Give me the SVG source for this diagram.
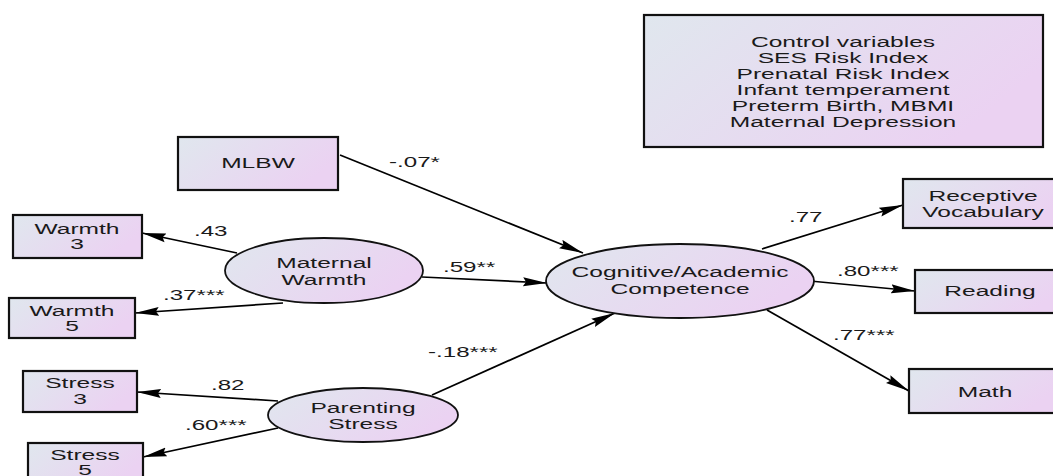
<svg xmlns="http://www.w3.org/2000/svg" width="1053" height="476" viewBox="0 0 1053 476">
<defs>
<linearGradient id="g" x1="0" y1="0" x2="1" y2="0.4">
<stop offset="0" stop-color="#e0e7ee"/>
<stop offset="1" stop-color="#ebd2f2"/>
</linearGradient>
<marker id="ah" viewBox="0 0 24 10" markerWidth="24" markerHeight="10" refX="24" refY="5" orient="auto" markerUnits="userSpaceOnUse">
<path d="M0,0.5 L24,5 L0,9.5 L3,5 z" fill="#000"/>
</marker>
<style>
.box{fill:url(#g);stroke:#111;stroke-width:2.2}
.ell{fill:url(#g);stroke:#111;stroke-width:1.8}
.t{font-family:"Liberation Sans",Arial,sans-serif;font-size:14.8px;fill:#1a1a1a;text-anchor:middle}
.lab{font-family:"Liberation Sans",Arial,sans-serif;font-size:14.8px;fill:#1a1a1a}
.c line{stroke:#000;stroke-width:1.7;marker-end:url(#ah)}
</style>
</defs>
<rect width="1053" height="476" fill="#fff"/>

<g id="controls">
<rect class="box" x="644" y="15" width="399" height="132"/>
<text class="t" transform="translate(843 47) scale(1.66 1)">Control variables</text>
<text class="t" transform="translate(843 63) scale(1.66 1)">SES Risk Index</text>
<text class="t" transform="translate(843 79) scale(1.66 1)">Prenatal Risk Index</text>
<text class="t" transform="translate(843 95) scale(1.66 1)">Infant temperament</text>
<text class="t" transform="translate(843 111) scale(1.66 1)">Preterm Birth, MBMI</text>
<text class="t" transform="translate(843 127) scale(1.66 1)">Maternal Depression</text>
</g>

<g class="c" id="connectors">
<line x1="340" y1="155" x2="583" y2="253"/>
<line x1="422" y1="277" x2="547" y2="283"/>
<line x1="432" y1="395" x2="615" y2="313"/>
<line x1="237" y1="253" x2="142" y2="233"/>
<line x1="283" y1="303" x2="135" y2="313"/>
<line x1="278" y1="401" x2="137" y2="392"/>
<line x1="278" y1="428" x2="143" y2="457"/>
<line x1="762" y1="249" x2="903" y2="205"/>
<line x1="810" y1="281" x2="915" y2="291"/>
<line x1="767" y1="310" x2="909" y2="391"/>
</g>

<g id="labels">
<text class="lab" transform="translate(389 167) scale(1.63 1)">-.07*</text>
<text class="lab" transform="translate(194 236) scale(1.63 1)">.43</text>
<text class="lab" transform="translate(163 300) scale(1.63 1)">.37***</text>
<text class="lab" transform="translate(443 272) scale(1.63 1)">.59**</text>
<text class="lab" transform="translate(428 357) scale(1.63 1)">-.18***</text>
<text class="lab" transform="translate(211 390) scale(1.63 1)">.82</text>
<text class="lab" transform="translate(185 430) scale(1.63 1)">.60***</text>
<text class="lab" transform="translate(789 222) scale(1.63 1)">.77</text>
<text class="lab" transform="translate(837 276) scale(1.63 1)">.80***</text>
<text class="lab" transform="translate(833 340) scale(1.63 1)">.77***</text>
</g>

<g id="mlbw">
<rect class="box" x="178" y="137" width="160" height="53"/>
<text class="t" transform="translate(258 168) scale(1.66 1)">MLBW</text>
</g>
<g id="warmth3">
<rect class="box" x="13" y="215" width="129" height="43"/>
<text class="t" transform="translate(77 234) scale(1.66 1)">Warmth</text>
<text class="t" transform="translate(77 249) scale(1.66 1)">3</text>
</g>
<g id="warmth5">
<rect class="box" x="9" y="298" width="126" height="40"/>
<text class="t" transform="translate(72 316) scale(1.66 1)">Warmth</text>
<text class="t" transform="translate(72 331) scale(1.66 1)">5</text>
</g>
<g id="stress3">
<rect class="box" x="23" y="371" width="114" height="41"/>
<text class="t" transform="translate(80 388) scale(1.66 1)">Stress</text>
<text class="t" transform="translate(80 404) scale(1.66 1)">3</text>
</g>
<g id="stress5">
<rect class="box" x="28" y="443" width="115" height="42"/>
<text class="t" transform="translate(85 460) scale(1.66 1)">Stress</text>
<text class="t" transform="translate(85 475) scale(1.66 1)">5</text>
</g>

<g id="maternal-warmth">
<ellipse class="ell" cx="324" cy="270.5" rx="99" ry="32.5"/>
<text class="t" transform="translate(324 268) scale(1.66 1)">Maternal</text>
<text class="t" transform="translate(324 285) scale(1.66 1)">Warmth</text>
</g>
<g id="parenting-stress">
<ellipse class="ell" cx="363" cy="415" rx="95" ry="27"/>
<text class="t" transform="translate(363 413) scale(1.66 1)">Parenting</text>
<text class="t" transform="translate(363 429) scale(1.66 1)">Stress</text>
</g>
<g id="cognitive">
<ellipse class="ell" cx="680" cy="281" rx="134" ry="37"/>
<text class="t" transform="translate(680 277) scale(1.66 1)">Cognitive/Academic</text>
<text class="t" transform="translate(680 294) scale(1.66 1)">Competence</text>
</g>

<g id="receptive">
<rect class="box" x="903" y="179" width="160" height="49"/>
<text class="t" transform="translate(983 201) scale(1.66 1)">Receptive</text>
<text class="t" transform="translate(983 217) scale(1.66 1)">Vocabulary</text>
</g>
<g id="reading">
<rect class="box" x="915" y="270" width="150" height="43"/>
<text class="t" transform="translate(990 296) scale(1.66 1)">Reading</text>
</g>
<g id="math">
<rect class="box" x="909" y="369" width="152" height="44"/>
<text class="t" transform="translate(985 397) scale(1.66 1)">Math</text>
</g>
</svg>
